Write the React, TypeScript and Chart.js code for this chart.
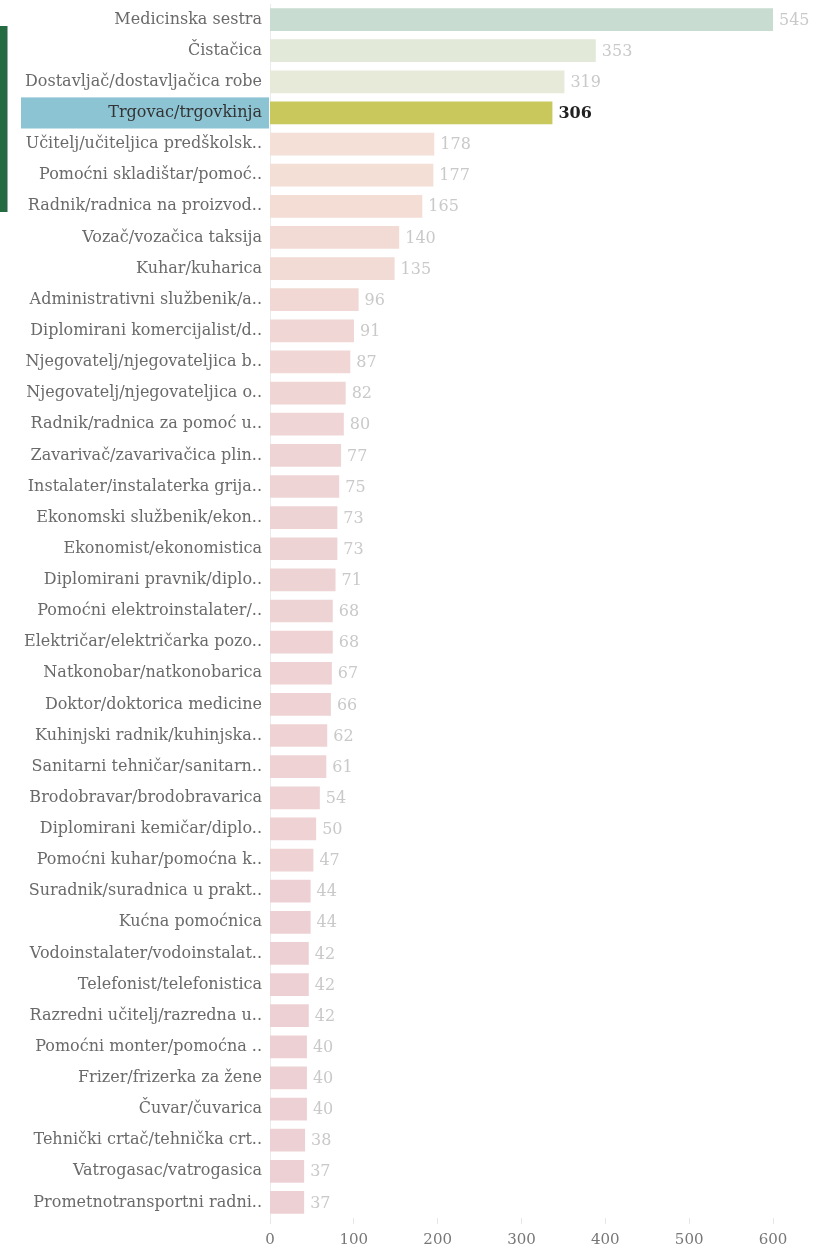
import React, { useEffect, useRef } from "react";
import { Chart, registerables } from "chart.js";

Chart.register(...registerables);

const categories: string[] = [
  "Medicinska sestra",
  "Čistačica",
  "Dostavljač/dostavljačica robe",
  "Trgovac/trgovkinja",
  "Učitelj/učiteljica predškolsk..",
  "Pomoćni skladištar/pomoć..",
  "Radnik/radnica na proizvod..",
  "Vozač/vozačica taksija",
  "Kuhar/kuharica",
  "Administrativni službenik/a..",
  "Diplomirani komercijalist/d..",
  "Njegovatelj/njegovateljica b..",
  "Njegovatelj/njegovateljica o..",
  "Radnik/radnica za pomoć u..",
  "Zavarivač/zavarivačica plin..",
  "Instalater/instalaterka grija..",
  "Ekonomski službenik/ekon..",
  "Ekonomist/ekonomistica",
  "Diplomirani pravnik/diplo..",
  "Pomoćni elektroinstalater/..",
  "Električar/električarka pozo..",
  "Natkonobar/natkonobarica",
  "Doktor/doktorica medicine",
  "Kuhinjski radnik/kuhinjska..",
  "Sanitarni tehničar/sanitarn..",
  "Brodobravar/brodobravarica",
  "Diplomirani kemičar/diplo..",
  "Pomoćni kuhar/pomoćna k..",
  "Suradnik/suradnica u prakt..",
  "Kućna pomoćnica",
  "Vodoinstalater/vodoinstalat..",
  "Telefonist/telefonistica",
  "Razredni učitelj/razredna u..",
  "Pomoćni monter/pomoćna ..",
  "Frizer/frizerka za žene",
  "Čuvar/čuvarica",
  "Tehnički crtač/tehnička crt..",
  "Vatrogasac/vatrogasica",
  "Prometnotransportni radni..",
];

const values: number[] = [
  545, 353, 319, 306, 178, 177, 165, 140, 135, 96, 91, 87, 82, 80, 77, 75, 73,
  73, 71, 68, 68, 67, 66, 62, 61, 54, 50, 47, 44, 44, 42, 42, 42, 40, 40, 40,
  38, 37, 37,
];

const barColors: string[] = [
  "#c9dcd1", "#e2e9d9", "#e7ead8", "#c8c85c",
  "#f4e0d6", "#f3dfd6", "#f3ddd5", "#f2dbd5", "#f2dad5",
  "#f1d8d5", "#f0d7d5", "#f0d6d5", "#f0d5d5", "#efd5d5",
  "#efd4d5", "#efd4d5", "#eed3d4", "#eed3d4", "#eed3d4",
  "#eed3d4", "#eed2d4", "#eed2d4", "#eed2d4", "#eed2d4",
  "#eed2d4", "#eed2d4", "#eed2d4", "#eed2d4", "#edd0d4",
  "#edd0d4", "#edd0d4", "#edd0d4", "#edd0d4", "#edd0d4",
  "#edd0d4", "#edd0d4", "#edd0d4", "#edd0d4", "#edd0d4",
];

const axisTicks: number[] = [0, 100, 200, 300, 400, 500, 600];
const highlightIndex = 3;

const FONT = "'DejaVu Serif', 'Liberation Serif', serif";

export default function App() {
  const canvasRef = useRef<HTMLCanvasElement | null>(null);

  useEffect(() => {
    document.body.style.margin = "0";
    document.body.style.overflow = "hidden";
    const canvas = canvasRef.current;
    if (!canvas) return;

    const highlightPlugin = {
      id: "highlightLabel",
      beforeDraw(chart: any) {
        const { ctx, chartArea } = chart;
        const y = chart.scales.y;
        const band = (chartArea.bottom - chartArea.top) / categories.length;
        const cy = y.getPixelForValue(highlightIndex);
        ctx.save();
        ctx.fillStyle = "#8cc4d4";
        ctx.fillRect(21, cy - band / 2, chartArea.left - 1 - 21, band);
        ctx.restore();
      },
    };

    const valueLabels = {
      id: "valueLabels",
      afterDatasetsDraw(chart: any) {
        const { ctx } = chart;
        const meta = chart.getDatasetMeta(0);
        ctx.save();
        ctx.textBaseline = "middle";
        ctx.textAlign = "left";
        meta.data.forEach((bar: any, i: number) => {
          const hl = i === highlightIndex;
          ctx.font = (hl ? "bold " : "") + "16px " + FONT;
          ctx.fillStyle = hl ? "#222222" : "#c9c9c9";
          ctx.fillText(String(values[i]), bar.x + 6, bar.y + 1);
        });
        ctx.restore();
      },
    };

    const chart = new Chart(canvas, {
      type: "bar",
      data: {
        labels: categories,
        datasets: [
          {
            data: values,
            backgroundColor: barColors,
            borderWidth: 0,
            barPercentage: 0.73,
            categoryPercentage: 1,
            xAxisID: "x",
          },
        ],
      },
      options: {
        indexAxis: "y",
        responsive: false,
        animation: false,
        layout: { padding: { top: 4, right: 63, bottom: 0, left: 0 } },
        plugins: {
          legend: { display: false },
          tooltip: { enabled: false },
        },
        scales: {
          x: {
            type: "linear",
            display: false,
            min: 0,
            max: Math.max(...values),
          },
          x2: {
            type: "linear",
            axis: "x",
            position: "bottom",
            min: axisTicks[0],
            max: axisTicks[axisTicks.length - 1],
            afterBuildTicks(scale: any) {
              scale.ticks = axisTicks.map((v) => ({ value: v }));
            },
            afterFit(scale: any) {
              scale.height = 26;
              scale.paddingLeft = 0;
              scale.paddingRight = 0;
            },
            grid: {
              drawOnChartArea: false,
              drawTicks: true,
              tickLength: 6,
              color: "#e6e6e6",
            },
            border: { display: false },
            ticks: {
              padding: 7,
              color: "#777777",
              font: { family: FONT, size: 15 },
            },
          },
          y: {
            type: "category",
            afterFit(scale: any) {
              scale.width = 270;
              scale.paddingTop = 0;
              scale.paddingBottom = 0;
            },
            grid: { display: false, drawTicks: false },
            border: { display: true, color: "#ebebeb", width: 1 },
            ticks: {
              padding: 8,
              autoSkip: false,
              color: (c: any) => (c.index === highlightIndex ? "#333333" : "#6a6a6a"),
              font: { family: FONT, size: 16 },
            },
          },
        },
      },
      plugins: [highlightPlugin, valueLabels],
    });

    return () => chart.destroy();
  }, []);

  return (
    <div style={{ position: "relative", width: 836, height: 1244, overflow: "hidden" }}>
      <div
        style={{
          position: "absolute",
          left: 0,
          top: 26,
          width: 7,
          height: 186,
          background: "#256b41",
          boxShadow: "1px 0 0 #9aa",
        }}
      />
      <canvas ref={canvasRef} width={836} height={1244} style={{ display: "block", width: 836, height: 1244 }} />
    </div>
  );
}
